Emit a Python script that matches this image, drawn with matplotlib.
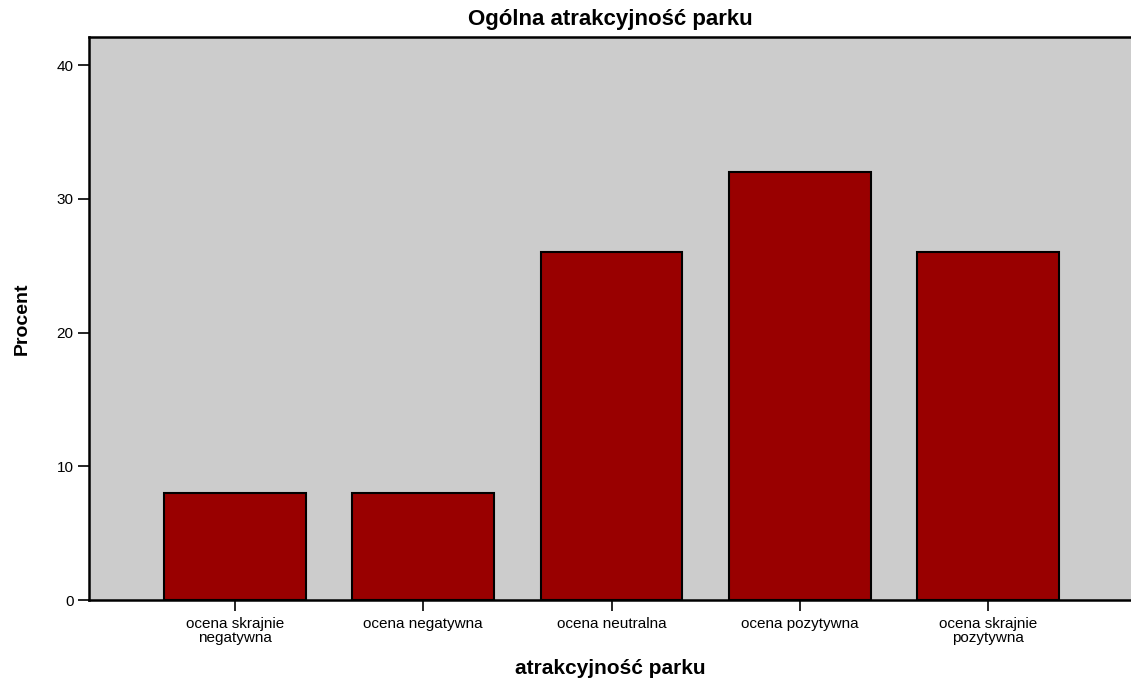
import matplotlib
matplotlib.use('Agg')
import matplotlib.pyplot as plt

plt.rcParams['font.family'] = ['Liberation Sans', 'DejaVu Sans']

categories = ['ocena skrajnie\nnegatywna', 'ocena negatywna', 'ocena neutralna',
              'ocena pozytywna', 'ocena skrajnie\npozytywna']
percent = [8, 8, 26, 32, 26]
yticks = [0, 10, 20, 30, 40]

fig = plt.figure(figsize=(11.31, 6.82), dpi=100)
ax = fig.add_axes([0.0787, 0.1202, 0.9213, 0.8255])
ax.set_facecolor('#cccccc')

x = list(range(len(categories)))
ax.bar(x, percent, width=0.754, color='#990000', edgecolor='black', linewidth=1.5, zorder=2)

ax.set_xlim(-0.776, 4.76)
ax.set_ylim(0, 42.1)
ax.set_xticks(x)
ax.set_xticklabels(categories, fontsize=11, linespacing=1.05)
ax.set_yticks(yticks)
ax.set_yticklabels([str(v) for v in yticks], fontsize=11)
ax.tick_params(axis='both', direction='out', length=8, width=1.2, color='black')
ax.tick_params(axis='x', pad=4)
ax.tick_params(axis='y', pad=3)

for side in ['left', 'bottom', 'top']:
    ax.spines[side].set_linewidth(1.8)
    ax.spines[side].set_color('black')
ax.spines['right'].set_visible(False)

ax.set_xlabel('atrakcyjność parku', fontsize=15, fontweight='bold', labelpad=10)
ax.set_ylabel('Procent', fontsize=14, fontweight='bold', labelpad=19)
ax.set_title('Ogólna atrakcyjność parku', fontsize=16, fontweight='bold', pad=9)

fig.savefig('out.png', dpi=100)
